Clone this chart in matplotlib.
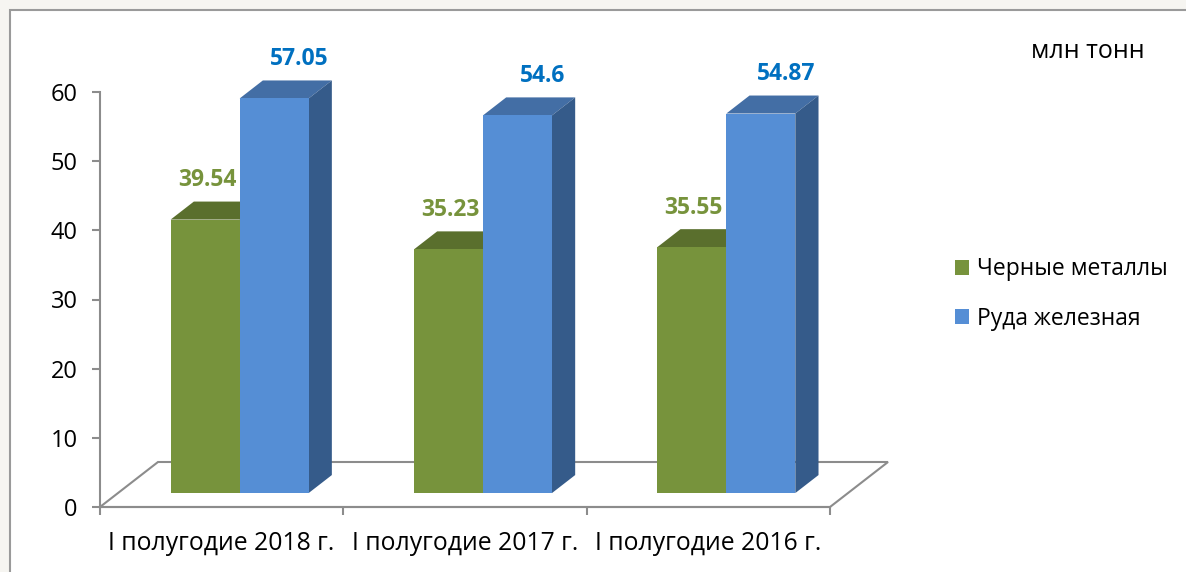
import numpy as np
import matplotlib
matplotlib.use("Agg")
import matplotlib.pyplot as plt
from matplotlib.patches import Polygon, Rectangle, Patch

# данные
categories = ["I полугодие 2018 г.", "I полугодие 2017 г.", "I полугодие 2016 г."]
series_names = ["Черные металлы", "Руда железная"]
ferrous = [39.54, 35.23, 35.55]
iron_ore = [57.05, 54.6, 54.87]
y_ticks = [0, 10, 20, 30, 40, 50, 60]
unit_label = "млн тонн"

plt.rcParams['font.family'] = ['Open Sans', 'DejaVu Sans']

W, H = 1186, 572
fig = plt.figure(figsize=(W / 100, H / 100), dpi=100)
fig.patch.set_facecolor('#F6F5F1')
# белая область с рамкой
fig.add_artist(Rectangle((10 / W, -0.05), 1.1, 1 - 10 / H + 0.05, transform=fig.transFigure,
                         facecolor='white', edgecolor='#9A9A9A', lw=1.5, zorder=0))

ax = fig.add_axes([100 / W, 65 / H, 730 / W, 415 / H])
ax.set_facecolor('none')
ax.set_xlim(-0.5, 2.5)
ax.set_ylim(0, 60)

# пиксели -> единицы данных
px_x = 730 / 3
px_y = 415 / 60
Dx, Dy = 58 / px_x, 45 / px_y      # глубина пола
f0, fd = 0.31, 0.40               # положение и глубина столбцов
w = 69 / px_x                     # ширина столбца

gray = '#8C8C8C'
floor = Polygon([(-0.5, 0), (2.5, 0), (2.5 + Dx, Dy), (-0.5 + Dx, Dy)], closed=True,
                facecolor='white', edgecolor=gray, lw=1.5, zorder=1, clip_on=False)
ax.add_patch(floor)

x = np.arange(len(categories))
sx, sy = f0 * Dx, f0 * Dy
ddx, ddy = fd * Dx, fd * Dy

styles = [
    dict(vals=ferrous, left=x - w + sx, front='#77933C', top='#5A6F2D', side='#4F6327', lab='#77933C', off=2 / px_x),
    dict(vals=iron_ore, left=x + sx, front='#558ED5', top='#436EA5', side='#355B8A', lab='#0070C0', off=25 / px_x),
]

z = 2
for st in styles:
    for xl, v in zip(st['left'], st['vals']):
        top = v + sy
        ax.add_patch(Polygon([(xl, top), (xl + w, top), (xl + w + ddx, top + ddy), (xl + ddx, top + ddy)],
                             closed=True, facecolor=st['top'], edgecolor='none', zorder=z, clip_on=False))
        ax.add_patch(Polygon([(xl + w, sy), (xl + w, top), (xl + w + ddx, top + ddy), (xl + w + ddx, sy + ddy)],
                             closed=True, facecolor=st['side'], edgecolor='none', zorder=z, clip_on=False))
    ax.bar(st['left'], st['vals'], width=w, bottom=sy, align='edge', color=st['front'],
           zorder=z + 1, clip_on=False)
    for xl, v in zip(st['left'], st['vals']):
        ax.text(xl + w / 2 + st['off'], v + 7.7, f"{v:g}", ha='center', va='center',
                fontsize=16.5, fontweight='bold', color=st['lab'], zorder=10)
    z += 2

# оси
for s in ['top', 'right']:
    ax.spines[s].set_visible(False)
for s in ['left', 'bottom']:
    ax.spines[s].set_color(gray)
    ax.spines[s].set_linewidth(1.5)
    ax.spines[s].set_zorder(1.5)
ax.set_yticks(y_ticks)
ax.tick_params(axis='y', length=6, width=1.5, color=gray, pad=10, labelsize=17, labelcolor='black')
ax.set_xticks(x)
ax.set_xticklabels(categories)
ax.set_xticks([-0.5, 0.5, 1.5, 2.5], minor=True)
ax.tick_params(axis='x', which='major', length=0, pad=17.5, labelsize=17.8, labelcolor='black')
ax.tick_params(axis='x', which='minor', length=6, width=1.5, color=gray)

fig.text(1088 / W, 1 - 51 / H, unit_label, ha='center', va='center', fontsize=18)

handles = [Patch(facecolor=styles[0]['front']), Patch(facecolor=styles[1]['front'])]
fig.legend(handles, series_names, loc='center left', bbox_to_anchor=(955 / W, 1 - 294 / H),
           frameon=False, fontsize=16.5, handlelength=0.62, handleheight=0.62,
           handletextpad=0.35, labelspacing=1.1, borderpad=0, borderaxespad=0)

fig.savefig('out.png', dpi=100, facecolor=fig.get_facecolor())
